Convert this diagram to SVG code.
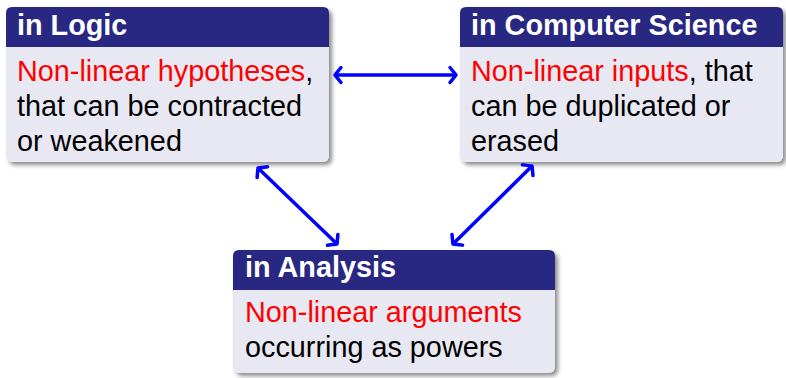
<svg xmlns="http://www.w3.org/2000/svg" width="786" height="378" viewBox="0 0 786 378">
  <defs>
    <filter id="shadow" x="-10%" y="-10%" width="125%" height="130%">
      <feDropShadow dx="3" dy="3" stdDeviation="2" flood-color="#000" flood-opacity="0.45"/>
    </filter>
    <marker id="tip" viewBox="-12 -12 24 24" markerWidth="24" markerHeight="24" markerUnits="userSpaceOnUse" refX="0" refY="0" orient="auto-start-reverse">
      <path d="M -6 -7.5 Q -1.5 -2 0 0 Q -1.5 2 -6 7.5" fill="none" stroke="#0000ff" stroke-width="3.5" stroke-linecap="round" stroke-linejoin="round"/>
    </marker>
  </defs>
  <style>
    .body { fill: #e8e8f2; }
    .head { fill: #282882; }
    .title { font-family: "Liberation Sans", Arial, sans-serif; font-weight: bold; font-size: 28.8px; fill: #ffffff; }
    .txt { font-family: "Liberation Sans", Arial, sans-serif; font-size: 28.8px; fill: #000000; }
    .red { fill: #ff0000; }
    .link { fill: none; stroke: #0000ff; stroke-width: 3.5; marker-start: url(#tip); marker-end: url(#tip); }
  </style>

  <rect width="786" height="378" fill="#ffffff"/>

  <g id="logic">
    <rect class="body" x="6" y="7" width="323" height="155" rx="6" filter="url(#shadow)"/>
    <path class="head" d="M 6 47 V 13 Q 6 7 12 7 H 323 Q 329 7 329 13 V 47 Z"/>
    <text class="title" x="17" y="35">in Logic</text>
    <text class="txt" x="17" y="81"><tspan class="red">Non-linear hypotheses</tspan>,</text>
    <text class="txt" x="17" y="116">that can be contracted</text>
    <text class="txt" x="17" y="151">or weakened</text>
  </g>

  <g id="computer-science">
    <rect class="body" x="460" y="7" width="323" height="155" rx="6" filter="url(#shadow)"/>
    <path class="head" d="M 460 47 V 13 Q 460 7 466 7 H 777 Q 783 7 783 13 V 47 Z"/>
    <text class="title" x="471" y="35">in Computer Science</text>
    <text class="txt" x="471" y="81"><tspan class="red">Non-linear inputs</tspan>, that</text>
    <text class="txt" x="471" y="116">can be duplicated or</text>
    <text class="txt" x="471" y="151">erased</text>
  </g>

  <g id="analysis">
    <rect class="body" x="233" y="250" width="322" height="123" rx="6" filter="url(#shadow)"/>
    <path class="head" d="M 233 290 V 256 Q 233 250 239 250 H 549 Q 555 250 555 256 V 290 Z"/>
    <text class="title" x="245" y="277">in Analysis</text>
    <text class="txt" x="245" y="322"><tspan class="red">Non-linear arguments</tspan></text>
    <text class="txt" x="245" y="357">occurring as powers</text>
  </g>

  <g id="connectors">
    <line class="link" x1="335" y1="75" x2="456" y2="75"/>
    <line class="link" x1="258" y1="168" x2="337" y2="244"/>
    <line class="link" x1="532" y1="166" x2="453" y2="244"/>
  </g>
</svg>
